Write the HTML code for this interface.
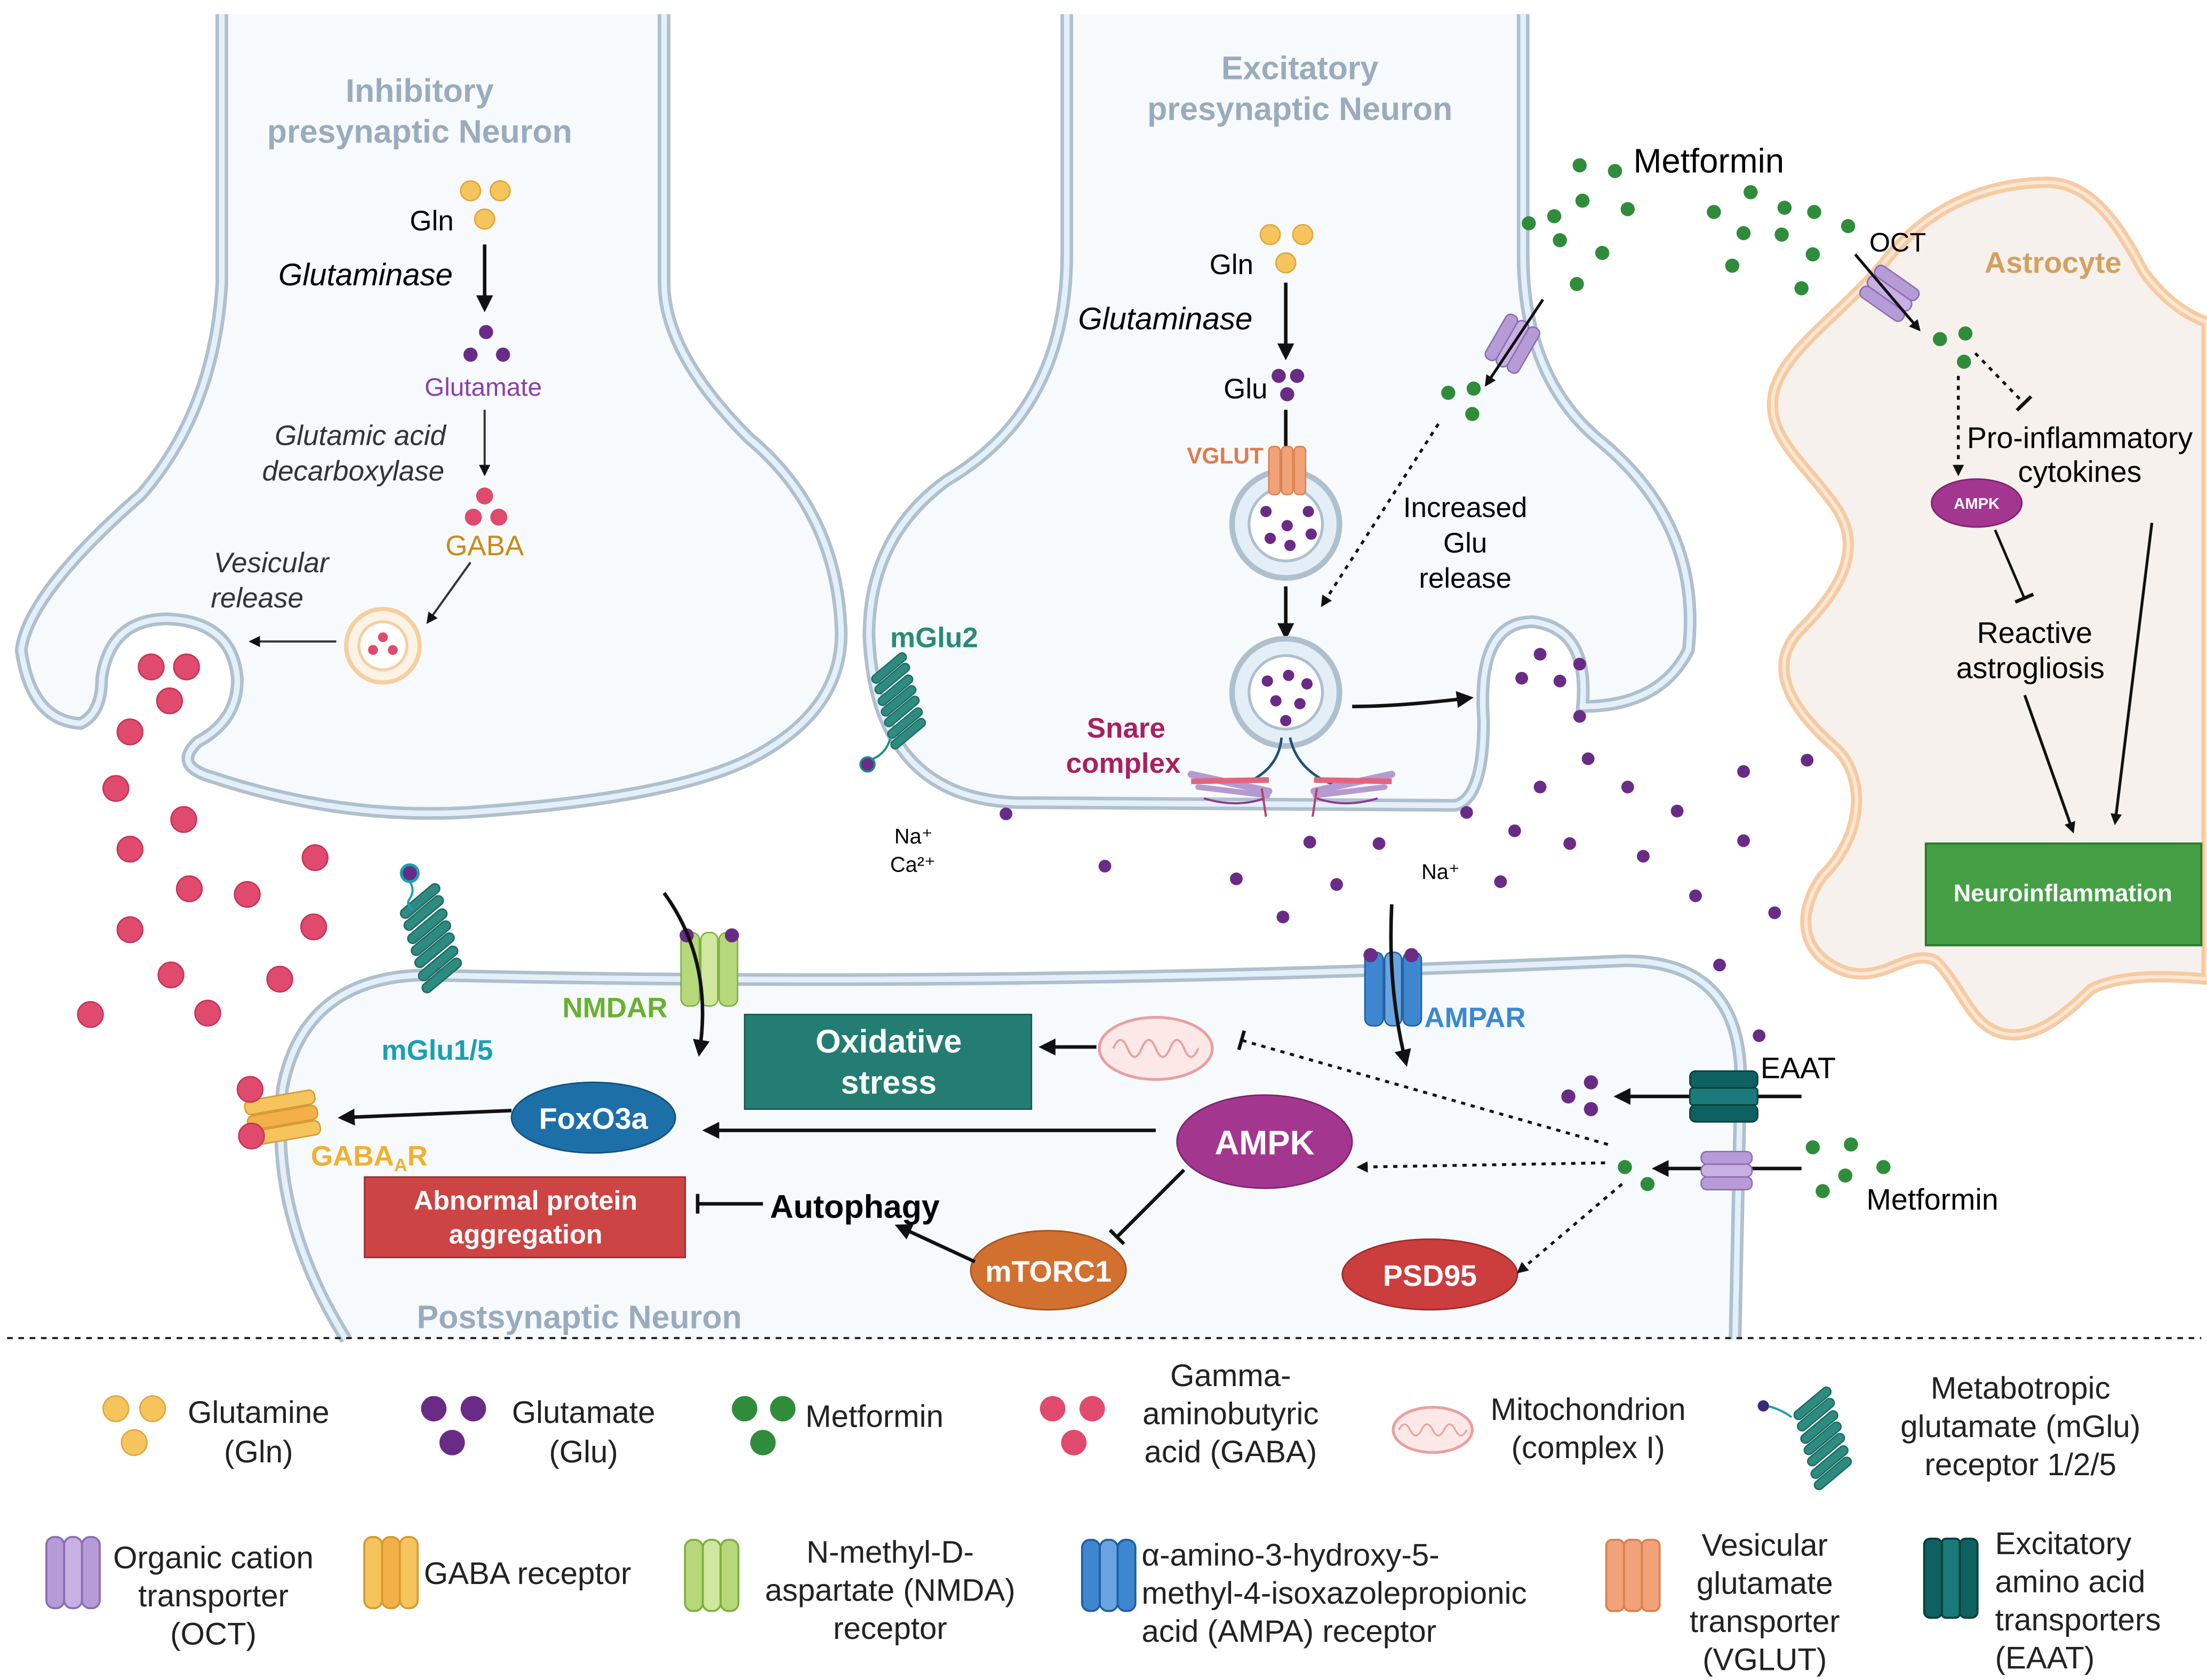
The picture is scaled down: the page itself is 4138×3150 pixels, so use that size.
<!DOCTYPE html>
<html><head><meta charset="utf-8"><style>
html,body{margin:0;padding:0;background:#fff}
svg{display:block}
text{font-family:"Liberation Sans",sans-serif}
</style></head><body>
<svg width="4138" height="3150" viewBox="0 0 1562 1189" xmlns="http://www.w3.org/2000/svg">
<defs>
<marker id="ah" markerWidth="8" markerHeight="8" refX="6" refY="4" orient="auto" markerUnits="userSpaceOnUse"><path d="M0,0 L8,4 L0,8 z" fill="#111"/></marker>
<marker id="ahs" markerWidth="12" markerHeight="12" refX="9" refY="6" orient="auto" markerUnits="userSpaceOnUse"><path d="M0,0 L12,6 L0,12 z" fill="#111"/></marker>
<marker id="tb" markerWidth="4" markerHeight="14" refX="2" refY="7" orient="auto" markerUnits="userSpaceOnUse"><rect x="0" y="0" width="2.5" height="14" fill="#111"/></marker>
<g id="gln"><circle r="7" fill="#f6c45c" stroke="#e0a53a" stroke-width="1"/></g>
<g id="glu"><circle r="5" fill="#6a2b86"/></g>
<g id="met"><circle r="5" fill="#2f8c3a"/></g>
<g id="gaba"><circle r="9" fill="#e04a6c" stroke="#c63356" stroke-width="1"/></g>
<g id="oct"><rect x="-13" y="-18" width="9" height="36" rx="4" fill="#b79bd6" stroke="#8a6db3"/><rect x="-4" y="-18" width="9" height="36" rx="4" fill="#c8b0e2" stroke="#8a6db3"/><rect x="5" y="-18" width="9" height="36" rx="4" fill="#b79bd6" stroke="#8a6db3"/></g>
<g id="mglu" fill="#2e8b80" stroke="#1d6b62" stroke-width="1.2">
<rect x="-20" y="-4" width="40" height="8" rx="4" transform="translate(-9,-31) rotate(-40)"/>
<rect x="-20" y="-4" width="40" height="8" rx="4" transform="translate(-6,-21) rotate(-40)"/>
<rect x="-20" y="-4" width="40" height="8" rx="4" transform="translate(-3,-10) rotate(-40)"/>
<rect x="-20" y="-4" width="40" height="8" rx="4" transform="translate(0,0) rotate(-40)"/>
<rect x="-20" y="-4" width="40" height="8" rx="4" transform="translate(3,10) rotate(-40)"/>
<rect x="-20" y="-4" width="40" height="8" rx="4" transform="translate(6,21) rotate(-40)"/>
<rect x="-20" y="-4" width="40" height="8" rx="4" transform="translate(9,31) rotate(-40)"/>
</g>
</defs>
<rect width="1562" height="1189" fill="#fff"/>

<!-- Astrocyte -->
<path d="M1332,188 C1360,150 1400,130 1447,129 C1480,128 1500,160 1517,192 C1530,210 1545,222 1562,228 L1562,693 C1530,690 1500,690 1480,700 C1460,720 1440,735 1420,732 C1395,728 1390,700 1370,680 C1350,670 1330,700 1300,685 C1270,670 1275,640 1290,620 C1320,590 1320,550 1300,530 C1265,500 1250,470 1275,445 C1300,420 1320,390 1300,360 C1280,330 1250,310 1255,280 C1260,250 1300,225 1332,188 z" fill="#f6f1ec" stroke="#f6cba3" stroke-width="8"/>
<path d="M1332,188 C1360,150 1400,130 1447,129 C1480,128 1500,160 1517,192 C1530,210 1545,222 1562,228 L1562,693 C1530,690 1500,690 1480,700 C1460,720 1440,735 1420,732 C1395,728 1390,700 1370,680 C1350,670 1330,700 1300,685 C1270,670 1275,640 1290,620 C1320,590 1320,550 1300,530 C1265,500 1250,470 1275,445 C1300,420 1320,390 1300,360 C1280,330 1250,310 1255,280 C1260,250 1300,225 1332,188 z" fill="none" stroke="#fde7d4" stroke-width="2.5"/>

<!-- Inhibitory neuron -->
<path d="M157,10 V200 Q152,290 100,350 Q20,420 15,460 Q22,510 57,512 Q72,505 72,480 Q78,438 119,438 Q165,440 168,481 Q168,510 140,525 Q122,542 150,550 Q240,580 330,575 Q480,565 535,535 Q600,500 595,440 Q590,360 530,310 Q470,250 470,200 V10" fill="#f6fafd" stroke="#b0bfcc" stroke-width="9"/>
<path d="M157,10 V200 Q152,290 100,350 Q20,420 15,460 Q22,510 57,512 Q72,505 72,480 Q78,438 119,438 Q165,440 168,481 Q168,510 140,525 Q122,542 150,550 Q240,580 330,575 Q480,565 535,535 Q600,500 595,440 Q590,360 530,310 Q470,250 470,200 V10" fill="none" stroke="#e3f0fc" stroke-width="4"/>

<!-- Excitatory neuron -->
<path d="M755,10 V180 Q755,290 670,340 Q615,380 615,450 Q620,565 720,568 L1030,570 Q1050,565 1050,510 Q1045,440 1085,440 Q1125,445 1120,500 Q1175,500 1195,460 Q1205,370 1130,310 Q1078,265 1078,180 V10" fill="#f6fafd" stroke="#b0bfcc" stroke-width="9"/>
<path d="M755,10 V180 Q755,290 670,340 Q615,380 615,450 Q620,565 720,568 L1030,570 Q1050,565 1050,510 Q1045,440 1085,440 Q1125,445 1120,500 Q1175,500 1195,460 Q1205,370 1130,310 Q1078,265 1078,180 V10" fill="none" stroke="#e3f0fc" stroke-width="4"/>

<!-- Postsynaptic -->
<path d="M245,948 Q190,860 200,770 Q215,692 300,690 Q700,700 1150,680 Q1230,680 1232,760 L1228,948" fill="#f6fafd" stroke="#b0bfcc" stroke-width="9"/>
<path d="M245,948 Q190,860 200,770 Q215,692 300,690 Q700,700 1150,680 Q1230,680 1232,760 L1228,948" fill="none" stroke="#e3f0fc" stroke-width="4"/>

<!-- titles -->
<g font-weight="bold" fill="#9aabbd" font-size="23" text-anchor="middle">
<text x="297" y="72">Inhibitory</text><text x="297" y="101">presynaptic Neuron</text>
<text x="920" y="56">Excitatory</text><text x="920" y="85">presynaptic Neuron</text>
<text x="410" y="940">Postsynaptic Neuron</text>
</g>

<!-- Inhibitory pathway -->
<use href="#gln" x="333" y="135"/><use href="#gln" x="354" y="135"/><use href="#gln" x="343" y="155"/>
<text x="290" y="163" font-size="20">Gln</text>
<text x="197" y="202" font-size="22" font-style="italic">Glutaminase</text>
<line x1="343" y1="173" x2="343" y2="218" stroke="#111" stroke-width="2.5" marker-end="url(#ahs)"/>
<use href="#glu" x="344" y="235"/><use href="#glu" x="333" y="251"/><use href="#glu" x="356" y="251"/>
<text x="342" y="280" font-size="18" fill="#8a3fa8" text-anchor="middle">Glutamate</text>
<text x="255" y="315" font-size="20" font-style="italic" fill="#333" text-anchor="middle">Glutamic acid</text>
<text x="250" y="340" font-size="20" font-style="italic" fill="#333" text-anchor="middle">decarboxylase</text>
<line x1="343" y1="290" x2="343" y2="335" stroke="#333" stroke-width="1.5" marker-end="url(#ah)"/>
<circle cx="343" cy="351" r="6" fill="#e04a6c"/><circle cx="335" cy="366" r="6" fill="#e04a6c"/><circle cx="353" cy="366" r="6" fill="#e04a6c"/>
<text x="343" y="393" font-size="20" fill="#c88a1a" text-anchor="middle">GABA</text>
<line x1="333" y1="398" x2="303" y2="440" stroke="#333" stroke-width="1.5" marker-end="url(#ah)"/>
<text x="192" y="405" font-size="20" font-style="italic" fill="#333" text-anchor="middle">Vesicular</text>
<text x="182" y="430" font-size="20" font-style="italic" fill="#333" text-anchor="middle">release</text>
<circle cx="271" cy="457" r="26" fill="#fdf2e6" stroke="#f5cf9e" stroke-width="3"/><circle cx="271" cy="457" r="17" fill="#fff" stroke="#f5cf9e" stroke-width="2"/>
<circle cx="271" cy="451" r="3.5" fill="#e04a6c"/><circle cx="264" cy="460" r="3.5" fill="#e04a6c"/><circle cx="278" cy="460" r="3.5" fill="#e04a6c"/>
<line x1="238" y1="454" x2="178" y2="454" stroke="#333" stroke-width="1.5" marker-end="url(#ah)"/>
<!-- GABA dots -->
<g>
<use href="#gaba" x="107" y="472"/><use href="#gaba" x="132" y="472"/><use href="#gaba" x="120" y="496"/>
<use href="#gaba" x="92" y="518"/><use href="#gaba" x="82" y="558"/><use href="#gaba" x="130" y="580"/>
<use href="#gaba" x="92" y="601"/><use href="#gaba" x="134" y="629"/><use href="#gaba" x="175" y="633"/>
<use href="#gaba" x="223" y="607"/><use href="#gaba" x="92" y="658"/><use href="#gaba" x="222" y="656"/>
<use href="#gaba" x="121" y="690"/><use href="#gaba" x="198" y="693"/><use href="#gaba" x="64" y="718"/>
<use href="#gaba" x="147" y="717"/>
</g>

<!-- Excitatory pathway -->
<use href="#gln" x="899" y="166"/><use href="#gln" x="922" y="166"/><use href="#gln" x="910" y="186"/>
<text x="856" y="194" font-size="20">Gln</text>
<text x="763" y="233" font-size="22" font-style="italic">Glutaminase</text>
<line x1="910" y1="200" x2="910" y2="252" stroke="#111" stroke-width="2.5" marker-end="url(#ahs)"/>
<text x="866" y="282" font-size="20">Glu</text>
<use href="#glu" x="905" y="266"/><use href="#glu" x="918" y="266"/><use href="#glu" x="911" y="279"/>
<line x1="910" y1="290" x2="910" y2="365" stroke="#111" stroke-width="2.5" marker-end="url(#ahs)"/>
<text x="840" y="328" font-size="16" font-weight="bold" fill="#e07a4a">VGLUT</text>
<circle cx="910" cy="371" r="38" fill="#e3eef7" stroke="#b0bfcc" stroke-width="4"/><circle cx="910" cy="371" r="26" fill="#fff" stroke="#b0bfcc" stroke-width="2"/>
<rect x="898" y="316" width="8" height="34" rx="3" fill="#f2a278" stroke="#d9824f"/><rect x="907" y="316" width="8" height="34" rx="3" fill="#f2a278" stroke="#d9824f"/><rect x="916" y="316" width="8" height="34" rx="3" fill="#f2a278" stroke="#d9824f"/>
<g fill="#6a2b86"><circle cx="896" cy="362" r="4"/><circle cx="911" cy="372" r="4"/><circle cx="926" cy="362" r="4"/><circle cx="899" cy="381" r="4"/><circle cx="913" cy="386" r="4"/><circle cx="928" cy="378" r="4"/></g>
<line x1="910" y1="415" x2="910" y2="450" stroke="#111" stroke-width="2.5" marker-end="url(#ahs)"/>
<circle cx="910" cy="490" r="38" fill="#e3eef7" stroke="#b0bfcc" stroke-width="4"/><circle cx="910" cy="490" r="26" fill="#fff" stroke="#b0bfcc" stroke-width="2"/>
<g fill="#6a2b86"><circle cx="897" cy="482" r="4"/><circle cx="912" cy="478" r="4"/><circle cx="925" cy="484" r="4"/><circle cx="903" cy="496" r="4"/><circle cx="920" cy="498" r="4"/><circle cx="910" cy="510" r="4"/></g>
<path d="M957,500 Q990,500 1040,494" fill="none" stroke="#111" stroke-width="2.5" marker-end="url(#ahs)"/>
<!-- snare -->
<g fill="none">
<path d="M907,522 Q905,545 880,555" stroke="#1f4f7a" stroke-width="1.8"/>
<path d="M913,522 Q918,545 943,555" stroke="#1f4f7a" stroke-width="1.8"/>
<path d="M843,548 L898,560" stroke="#b59ad0" stroke-width="5" stroke-linecap="round"/>
<path d="M843,553 L898,552" stroke="#e0667e" stroke-width="4"/>
<path d="M848,557 L897,563" stroke="#b59ad0" stroke-width="4" stroke-linecap="round"/>
<path d="M985,548 L930,560" stroke="#b59ad0" stroke-width="5" stroke-linecap="round"/>
<path d="M985,553 L930,552" stroke="#e0667e" stroke-width="4"/>
<path d="M980,557 L931,563" stroke="#b59ad0" stroke-width="4" stroke-linecap="round"/>
<path d="M852,565 Q875,572 895,565 M975,565 Q952,572 932,565" stroke="#8a3a90" stroke-width="1.5"/>
<path d="M893,558 L896,578 M932,558 L929,578" stroke="#c03a6a" stroke-width="1.5"/>
</g>
<text x="797" y="522" font-size="20" font-weight="bold" fill="#a82060" text-anchor="middle">Snare</text>
<text x="795" y="547" font-size="20" font-weight="bold" fill="#a82060" text-anchor="middle">complex</text>
<text x="1037" y="366" font-size="20" text-anchor="middle">Increased</text>
<text x="1037" y="391" font-size="20" text-anchor="middle">Glu</text>
<text x="1037" y="416" font-size="20" text-anchor="middle">release</text>
<line x1="1018" y1="300" x2="936" y2="428" stroke="#111" stroke-width="2" stroke-dasharray="3,4" marker-end="url(#ah)"/>
<!-- OCT on excitatory -->
<g transform="translate(1070,243) rotate(30)"><use href="#oct"/></g>
<line x1="1092" y1="212" x2="1052" y2="272" stroke="#111" stroke-width="2" marker-end="url(#ah)"/>
<use href="#met" x="1025" y="278"/><use href="#met" x="1043" y="275"/><use href="#met" x="1042" y="293"/>
<!-- mGlu2 -->
<g transform="translate(636,496) scale(0.75)"><use href="#mglu"/></g>
<path d="M630,523 q-3,10 -12,14" fill="none" stroke="#1a8a8a" stroke-width="1.5"/>
<circle cx="614" cy="541" r="5" fill="#6a2b86" stroke="#1a8a8a" stroke-width="1.5"/>
<text x="630" y="458" font-size="20" font-weight="bold" fill="#2a8a7a">mGlu2</text>
<text x="633" y="597" font-size="15">Na⁺</text>
<text x="630" y="617" font-size="15">Ca²⁺</text>
<text x="1006" y="622" font-size="15">Na⁺</text>

<!-- Glu dots in cleft -->
<g fill="#6a2b86">
<circle cx="712" cy="576" r="4.5"/><circle cx="782" cy="613" r="4.5"/><circle cx="875" cy="622" r="4.5"/><circle cx="927" cy="596" r="4.5"/><circle cx="908" cy="649" r="4.5"/><circle cx="946" cy="626" r="4.5"/><circle cx="976" cy="597" r="4.5"/>
<circle cx="1038" cy="575" r="4.5"/><circle cx="1072" cy="588" r="4.5"/><circle cx="1062" cy="624" r="4.5"/><circle cx="1090" cy="557" r="4.5"/><circle cx="1111" cy="597" r="4.5"/><circle cx="1124" cy="537" r="4.5"/><circle cx="1152" cy="557" r="4.5"/><circle cx="1163" cy="606" r="4.5"/><circle cx="1187" cy="574" r="4.5"/><circle cx="1200" cy="634" r="4.5"/><circle cx="1234" cy="546" r="4.5"/><circle cx="1234" cy="595" r="4.5"/><circle cx="1256" cy="646" r="4.5"/><circle cx="1279" cy="538" r="4.5"/><circle cx="1217" cy="683" r="4.5"/><circle cx="1245" cy="733" r="4.5"/>
<circle cx="1077" cy="480" r="4.5"/><circle cx="1090" cy="463" r="4.5"/><circle cx="1104" cy="482" r="4.5"/><circle cx="1118" cy="470" r="4.5"/><circle cx="1118" cy="507" r="4.5"/>
</g>

<!-- Metformin top -->
<text x="1156" y="122" font-size="24">Metformin</text>
<g>
<use href="#met" x="1118" y="117"/><use href="#met" x="1143" y="121"/><use href="#met" x="1120" y="142"/><use href="#met" x="1100" y="153"/><use href="#met" x="1082" y="158"/><use href="#met" x="1152" y="148"/><use href="#met" x="1104" y="170"/><use href="#met" x="1134" y="179"/><use href="#met" x="1116" y="201"/>
<use href="#met" x="1213" y="150"/><use href="#met" x="1239" y="136"/><use href="#met" x="1263" y="147"/><use href="#met" x="1234" y="165"/><use href="#met" x="1261" y="166"/><use href="#met" x="1284" y="150"/><use href="#met" x="1308" y="160"/><use href="#met" x="1283" y="180"/><use href="#met" x="1226" y="188"/><use href="#met" x="1275" y="204"/>
</g>
<!-- Astrocyte contents -->
<text x="1453" y="193" font-size="21" font-weight="bold" fill="#d4a060" text-anchor="middle">Astrocyte</text>
<text x="1323" y="178" font-size="19">OCT</text>
<g transform="translate(1337,208) rotate(-55)"><use href="#oct"/></g>
<line x1="1313" y1="180" x2="1358" y2="233" stroke="#111" stroke-width="2" marker-end="url(#ah)"/>
<use href="#met" x="1373" y="240"/><use href="#met" x="1391" y="236"/><use href="#met" x="1390" y="256"/>
<line x1="1386" y1="266" x2="1386" y2="335" stroke="#111" stroke-width="2" stroke-dasharray="3,4" marker-end="url(#ah)"/>
<line x1="1398" y1="250" x2="1433" y2="286" stroke="#111" stroke-width="2" stroke-dasharray="3,4" marker-end="url(#tb)"/>
<text x="1472" y="317" font-size="21" text-anchor="middle">Pro-inflammatory</text>
<text x="1472" y="341" font-size="21" text-anchor="middle">cytokines</text>
<ellipse cx="1399" cy="356" rx="32" ry="17" fill="#a3368f" stroke="#7d2070"/>
<text x="1399" y="360" font-size="11" font-weight="bold" fill="#fff" text-anchor="middle">AMPK</text>
<line x1="1412" y1="375" x2="1433" y2="424" stroke="#111" stroke-width="1.8" marker-end="url(#tb)"/>
<text x="1440" y="455" font-size="21" text-anchor="middle">Reactive</text>
<text x="1437" y="480" font-size="21" text-anchor="middle">astrogliosis</text>
<line x1="1433" y1="492" x2="1467" y2="588" stroke="#111" stroke-width="2" marker-end="url(#ah)"/>
<line x1="1523" y1="370" x2="1497" y2="582" stroke="#111" stroke-width="2" marker-end="url(#ah)"/>
<rect x="1363" y="597" width="195" height="72" fill="#45a045" stroke="#2a7a2a" stroke-width="1.5"/>
<text x="1460" y="638" font-size="17" font-weight="bold" fill="#fff" text-anchor="middle">Neuroinflammation</text>

<!-- Postsynaptic receptors -->
<g transform="translate(305,664) scale(0.85)"><use href="#mglu"/></g>
<path d="M290,624 q4,6 0,12 q-3,4 2,8" fill="none" stroke="#1aa0b0" stroke-width="1.5"/>
<circle cx="290" cy="618" r="6" fill="#6a2b86" stroke="#1aa0b0" stroke-width="2"/>
<text x="270" y="750" font-size="20" font-weight="bold" fill="#1aa0b0">mGlu1/5</text>
<g transform="translate(502,686)"><rect x="-20" y="-26" width="13" height="52" rx="5" fill="#b5d97a" stroke="#7fae3e"/><rect x="-6" y="-26" width="12" height="52" rx="5" fill="#cfe79e" stroke="#7fae3e"/><rect x="7" y="-26" width="13" height="52" rx="5" fill="#b5d97a" stroke="#7fae3e"/></g>
<circle cx="486" cy="662" r="5" fill="#6a2b86"/><circle cx="518" cy="662" r="5" fill="#6a2b86"/>
<text x="398" y="720" font-size="20" font-weight="bold" fill="#6ab030">NMDAR</text>
<path d="M470,632 Q505,680 495,745" fill="none" stroke="#111" stroke-width="2.5" marker-end="url(#ahs)"/>
<g transform="translate(986,700)"><rect x="-20" y="-26" width="13" height="52" rx="5" fill="#3e86d0" stroke="#1f5fa0"/><rect x="-6" y="-26" width="12" height="52" rx="5" fill="#6aa4e0" stroke="#1f5fa0"/><rect x="7" y="-26" width="13" height="52" rx="5" fill="#3e86d0" stroke="#1f5fa0"/></g>
<circle cx="970" cy="676" r="5" fill="#6a2b86"/><circle cx="999" cy="676" r="5" fill="#6a2b86"/>
<text x="1008" y="727" font-size="20" font-weight="bold" fill="#3a88d0">AMPAR</text>
<path d="M985,640 Q982,700 995,752" fill="none" stroke="#111" stroke-width="2.5" marker-end="url(#ahs)"/>
<!-- GABAAR -->
<g transform="translate(200,791) rotate(-10)"><rect x="-25" y="-16" width="50" height="10" rx="4" fill="#f6c45c" stroke="#d59a30"/><rect x="-25" y="-5" width="50" height="10" rx="4" fill="#f3b048" stroke="#d59a30"/><rect x="-25" y="6" width="50" height="10" rx="4" fill="#f6c45c" stroke="#d59a30"/></g>
<use href="#gaba" x="177" y="771"/><use href="#gaba" x="178" y="804"/>
<text x="220" y="825" font-size="20" font-weight="bold" fill="#f0b030">GABA<tspan font-size="13" dy="4">A</tspan><tspan dy="-4">R</tspan></text>

<!-- Boxes -->
<rect x="527" y="718" width="203" height="67" fill="#237d72" stroke="#15554e"/>
<text x="629" y="745" font-size="23" font-weight="bold" fill="#fff" text-anchor="middle">Oxidative</text>
<text x="629" y="774" font-size="23" font-weight="bold" fill="#fff" text-anchor="middle">stress</text>
<rect x="258" y="833" width="227" height="57" fill="#cc4444" stroke="#992a2a"/>
<text x="372" y="856" font-size="19" font-weight="bold" fill="#fff" text-anchor="middle">Abnormal protein</text>
<text x="372" y="880" font-size="19" font-weight="bold" fill="#fff" text-anchor="middle">aggregation</text>
<ellipse cx="420" cy="791" rx="58" ry="25" fill="#1d6fa8" stroke="#0f4f80"/>
<text x="420" y="799" font-size="21" font-weight="bold" fill="#fff" text-anchor="middle">FoxO3a</text>
<ellipse cx="895" cy="808" rx="62" ry="33" fill="#a3368f" stroke="#7d2070"/>
<text x="895" y="817" font-size="24" font-weight="bold" fill="#fff" text-anchor="middle">AMPK</text>
<ellipse cx="742" cy="899" rx="55" ry="28" fill="#d27030" stroke="#a85018"/>
<text x="742" y="907" font-size="21" font-weight="bold" fill="#fff" text-anchor="middle">mTORC1</text>
<ellipse cx="1012" cy="902" rx="62" ry="25" fill="#cc3d3d" stroke="#992a2a"/>
<text x="1012" y="910" font-size="21" font-weight="bold" fill="#fff" text-anchor="middle">PSD95</text>
<text x="605" y="862" font-size="23" font-weight="bold" text-anchor="middle">Autophagy</text>

<!-- mitochondrion -->
<ellipse cx="818" cy="742" rx="40" ry="22" fill="#fde8e8" stroke="#e8a0a0" stroke-width="2"/>
<path d="M788,742 q5,-12 10,0 q5,12 10,0 q5,-12 10,0 q5,12 10,0 q5,-12 10,0 q5,12 10,0" fill="none" stroke="#e8a0a0" stroke-width="1.5"/>

<!-- arrows in postsynaptic -->
<g stroke="#111" stroke-width="2.5" fill="none">
<line x1="776" y1="741" x2="738" y2="741" marker-end="url(#ahs)"/>
<line x1="818" y1="800" x2="500" y2="800" marker-end="url(#ahs)"/>
<line x1="362" y1="786" x2="242" y2="791" marker-end="url(#ahs)"/>
<line x1="540" y1="852" x2="493" y2="852" marker-end="url(#tb)"/>
<line x1="838" y1="828" x2="790" y2="876" marker-end="url(#tb)"/>
<line x1="690" y1="893" x2="636" y2="868" marker-end="url(#ahs)"/>
<line x1="1275" y1="776" x2="1145" y2="776" marker-end="url(#ahs)"/>
<line x1="1275" y1="827" x2="1172" y2="827" marker-end="url(#ahs)"/>
</g>
<g stroke="#111" stroke-width="2" fill="none" stroke-dasharray="3,4">
<line x1="1138" y1="810" x2="878" y2="736" marker-end="url(#tb)"/>
<line x1="1136" y1="823" x2="962" y2="826" marker-end="url(#ah)"/>
<line x1="1148" y1="838" x2="1075" y2="900" marker-end="url(#ah)"/>
</g>
<!-- EAAT -->
<g transform="translate(1220,776)"><rect x="-24" y="-18" width="48" height="12" rx="4" fill="#0f6060" stroke="#083e3e"/><rect x="-24" y="-6" width="48" height="12" rx="2" fill="#1a7a7a" stroke="#083e3e"/><rect x="-24" y="6" width="48" height="12" rx="4" fill="#0f6060" stroke="#083e3e"/></g>
<text x="1246" y="763" font-size="21">EAAT</text>
<use href="#glu" x="1110" y="776"/><use href="#glu" x="1126" y="766"/><use href="#glu" x="1126" y="785"/>
<g transform="translate(1222,828) rotate(90)"><use href="#oct"/></g>
<use href="#met" x="1150" y="826"/><use href="#met" x="1166" y="838"/>
<use href="#met" x="1283" y="812"/><use href="#met" x="1310" y="810"/><use href="#met" x="1333" y="826"/><use href="#met" x="1306" y="832"/><use href="#met" x="1290" y="843"/>
<text x="1321" y="856" font-size="21">Metformin</text>

<!-- dashed separator -->
<line x1="5" y1="947" x2="1558" y2="947" stroke="#222" stroke-width="1.5" stroke-dasharray="4,4"/>

<!-- Legend row 1 -->
<g font-size="22" fill="#222">
<circle cx="82" cy="997" r="9" fill="#f6c45c" stroke="#e0a53a"/><circle cx="108" cy="997" r="9" fill="#f6c45c" stroke="#e0a53a"/><circle cx="95" cy="1021" r="9" fill="#f6c45c" stroke="#e0a53a"/>
<text x="183" y="1007" text-anchor="middle">Glutamine</text><text x="183" y="1035" text-anchor="middle">(Gln)</text>
<circle cx="307" cy="997" r="9" fill="#6a2b86"/><circle cx="335" cy="997" r="9" fill="#6a2b86"/><circle cx="320" cy="1021" r="9" fill="#6a2b86"/>
<text x="413" y="1007" text-anchor="middle">Glutamate</text><text x="413" y="1035" text-anchor="middle">(Glu)</text>
<circle cx="527" cy="997" r="9" fill="#2f8c3a"/><circle cx="554" cy="997" r="9" fill="#2f8c3a"/><circle cx="540" cy="1021" r="9" fill="#2f8c3a"/>
<text x="570" y="1010">Metformin</text>
<circle cx="745" cy="997" r="9" fill="#e04a6c"/><circle cx="773" cy="997" r="9" fill="#e04a6c"/><circle cx="760" cy="1021" r="9" fill="#e04a6c"/>
<text x="871" y="981" text-anchor="middle">Gamma-</text><text x="871" y="1008" text-anchor="middle">aminobutyric</text><text x="871" y="1035" text-anchor="middle">acid (GABA)</text>
<ellipse cx="1014" cy="1012" rx="28" ry="16" fill="#fde8e8" stroke="#e8a0a0" stroke-width="2"/>
<path d="M990,1012 q4,-8 8,0 q4,8 8,0 q4,-8 8,0 q4,8 8,0 q4,-8 8,0 q4,8 8,0" fill="none" stroke="#e8a0a0" stroke-width="1.2"/>
<text x="1124" y="1005" text-anchor="middle">Mitochondrion</text><text x="1124" y="1032" text-anchor="middle">(complex I)</text>
<g transform="translate(1290,1018) scale(0.8)"><use href="#mglu"/></g>
<path d="M1250,995 q10,2 18,8" fill="none" stroke="#1aa0b0" stroke-width="1.5"/>
<circle cx="1248" cy="995" r="4" fill="#3c2a7a"/>
<text x="1430" y="990" text-anchor="middle">Metabotropic</text><text x="1430" y="1017" text-anchor="middle">glutamate (mGlu)</text><text x="1430" y="1044" text-anchor="middle">receptor 1/2/5</text>
</g>
<!-- Legend row 2 -->
<g font-size="22" fill="#222">
<g transform="translate(51,1113) scale(1.4)"><use href="#oct"/></g>
<text x="151" y="1110" text-anchor="middle">Organic cation</text><text x="151" y="1137" text-anchor="middle">transporter</text><text x="151" y="1164" text-anchor="middle">(OCT)</text>
<g transform="translate(276,1113) scale(1.4)"><rect x="-13" y="-18" width="9" height="36" rx="4" fill="#f6c45c" stroke="#d59a30"/><rect x="-4" y="-18" width="9" height="36" rx="4" fill="#f3b048" stroke="#d59a30"/><rect x="5" y="-18" width="9" height="36" rx="4" fill="#f6c45c" stroke="#d59a30"/></g>
<text x="300" y="1121">GABA receptor</text>
<g transform="translate(503,1115) scale(1.4)"><rect x="-13" y="-18" width="9" height="36" rx="4" fill="#b5d97a" stroke="#7fae3e"/><rect x="-4" y="-18" width="9" height="36" rx="4" fill="#cfe79e" stroke="#7fae3e"/><rect x="5" y="-18" width="9" height="36" rx="4" fill="#b5d97a" stroke="#7fae3e"/></g>
<text x="630" y="1106" text-anchor="middle">N-methyl-D-</text><text x="630" y="1133" text-anchor="middle">aspartate (NMDA)</text><text x="630" y="1160" text-anchor="middle">receptor</text>
<g transform="translate(784,1115) scale(1.4)"><rect x="-13" y="-18" width="9" height="36" rx="4" fill="#3e86d0" stroke="#1f5fa0"/><rect x="-4" y="-18" width="9" height="36" rx="4" fill="#6aa4e0" stroke="#1f5fa0"/><rect x="5" y="-18" width="9" height="36" rx="4" fill="#3e86d0" stroke="#1f5fa0"/></g>
<text x="808" y="1108">α-amino-3-hydroxy-5-</text><text x="808" y="1135">methyl-4-isoxazolepropionic</text><text x="808" y="1162">acid (AMPA) receptor</text>
<g transform="translate(1155,1115) scale(1.4)"><rect x="-13" y="-18" width="9" height="36" rx="3" fill="#f2a278" stroke="#d9824f"/><rect x="-4" y="-18" width="9" height="36" rx="3" fill="#f2a278" stroke="#d9824f"/><rect x="5" y="-18" width="9" height="36" rx="3" fill="#f2a278" stroke="#d9824f"/></g>
<text x="1249" y="1101" text-anchor="middle">Vesicular</text><text x="1249" y="1128" text-anchor="middle">glutamate</text><text x="1249" y="1155" text-anchor="middle">transporter</text><text x="1249" y="1182" text-anchor="middle">(VGLUT)</text>
<g transform="translate(1380,1117) scale(1.4)"><rect x="-13" y="-20" width="9" height="40" rx="3" fill="#0f6060" stroke="#083e3e"/><rect x="-4" y="-20" width="9" height="40" rx="2" fill="#1a7a7a" stroke="#083e3e"/><rect x="5" y="-20" width="9" height="40" rx="3" fill="#0f6060" stroke="#083e3e"/></g>
<text x="1412" y="1100">Excitatory</text><text x="1412" y="1127">amino acid</text><text x="1412" y="1154">transporters</text><text x="1412" y="1181">(EAAT)</text>
</g>
</svg>
</body></html>
